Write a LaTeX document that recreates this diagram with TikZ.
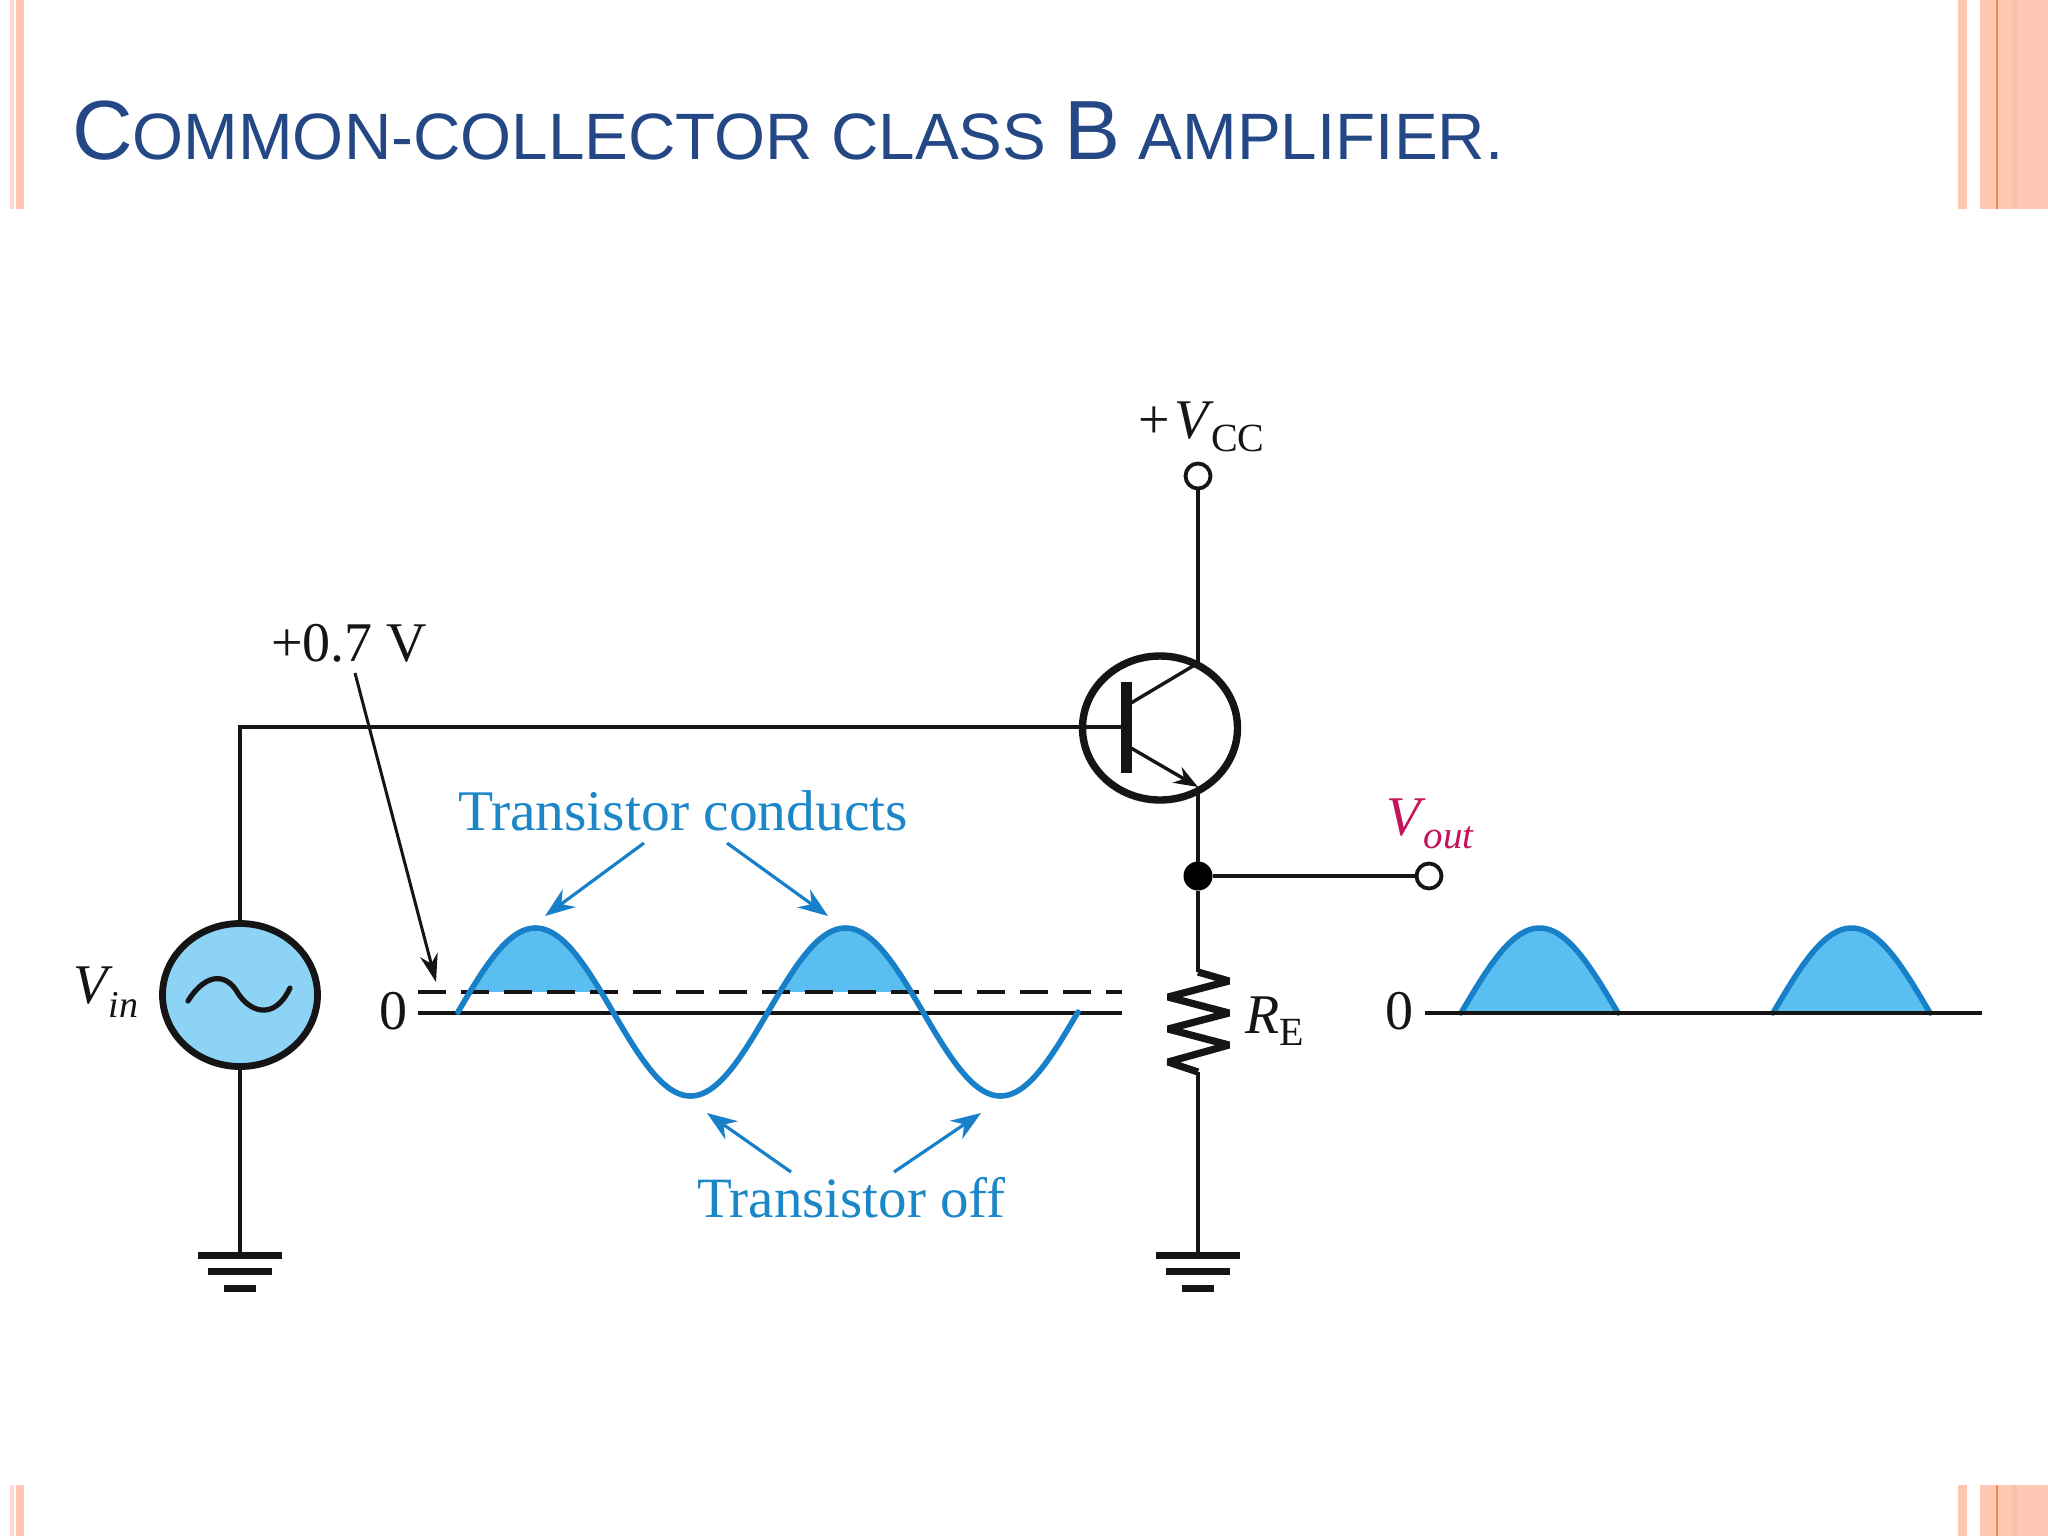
\documentclass[tikz,border=0pt]{standalone}
\usepackage{fontspec}
\setmainfont{Liberation Serif}
\newfontfamily\titlefont{Liberation Sans}
\usetikzlibrary{arrows.meta,shapes.geometric}
\definecolor{deco}{HTML}{FFC8B4}
\definecolor{decoB}{HTML}{FDBFA8}
\definecolor{decoL}{HTML}{FFD9CC}
\definecolor{decoO}{HTML}{F08A50}
\definecolor{titleblue}{HTML}{244785}
\definecolor{wire}{HTML}{151515}
\definecolor{wave}{HTML}{1780C8}
\definecolor{wavefill}{HTML}{5ABFF0}
\definecolor{srcfill}{HTML}{8DD3F5}
\definecolor{bluetxt}{HTML}{1B87C9}
\definecolor{outred}{HTML}{C4145A}
\newcommand{\fs}[1]{\fontsize{#1}{#1}\selectfont}
\tikzset{
  wireline/.style={draw=wire,line width=1.9pt},
  thinlead/.style={draw=wire,line width=1.7pt},
  terminal/.style={circle,draw=wire,fill=white,line width=1.9pt,minimum size=12.5pt,inner sep=0pt,outer sep=0pt},
  junction/.style={circle,fill=black,minimum size=14.5pt,inner sep=0pt,outer sep=0pt},
  bigring/.style={ellipse,draw=wire,line width=3.7pt,minimum width=77.5pt,minimum height=72pt,inner sep=0pt,outer sep=0pt},
  source/.style={ellipse,draw=wire,fill=srcfill,line width=3.4pt,minimum width=77.5pt,minimum height=71.5pt,inner sep=0pt,outer sep=0pt},
  label/.style={anchor=base west,inner sep=0pt,outer sep=0pt,text=#1,font=\fs{28}},
  label/.default=wire,
  bluearrow/.style={draw=wave,line width=1.6pt,-{Stealth[length=15pt,width=11pt,fill=wave]}},
  wavecurve/.style={draw=wave,line width=2.8pt,line cap=round,smooth},
  wavearea/.style={fill=wavefill,draw=none,smooth},
  ground/.pic={
    \draw[wire,line width=3.5pt] (-42,0)--(42,0);
    \draw[wire,line width=3.5pt] (-32,16)--(32,16);
    \draw[wire,line width=3.5pt] (-16,33)--(16,33);
  }
}
\begin{document}
\begin{tikzpicture}[x=0.5pt,y=-0.5pt]
\useasboundingbox (0,0) rectangle (2048,1536);
\fill[white] (0,0) rectangle (2048,1536);
% corner decoration
\foreach \ya/\yb in {0/209,1485/1536}{
  \fill[decoL] (10,\ya) rectangle (14,\yb);
  \fill[deco] (16,\ya) rectangle (24,\yb);
  \fill[deco] (1958,\ya) rectangle (1967,\yb);
  \fill[deco] (1980,\ya) rectangle (2048,\yb);
  \fill[decoB] (2012,\ya) rectangle (2017,\yb);
  \fill[decoO] (1996,\ya) rectangle (1998,\yb);
}
% title
\node[anchor=base west,inner sep=0pt,outer sep=0pt,text=titleblue] (title) at (72,159)
  {\titlefont\fs{42}C\fs{32.8}OMMON-COLLECTOR CLASS \fs{42}B\fs{32.8} AMPLIFIER.};

% named points
\coordinate (basept) at (1126,727);
\coordinate (coll) at (1198,663);
\coordinate (emit) at (1198,787);
\coordinate (collbar) at (1131,703);
\coordinate (emitbar) at (1131,748);
\coordinate (rtop) at (1198,972);
\coordinate (rbot) at (1198,1072);
\coordinate (g1) at (240,1255);
\coordinate (g2) at (1198,1255);
\coordinate (zl) at (418,1013);
\coordinate (zr) at (1122,1013);
\coordinate (dl) at (418,992);
\coordinate (dr) at (1122,992);
\coordinate (ol) at (1425,1013);
\coordinate (or) at (1982,1013);
\coordinate (tipv) at (436,982);
\coordinate (tailv) at (355,673);
\coordinate (tc1a) at (644,843);
\coordinate (tc1b) at (545,916);
\coordinate (tc2a) at (727,843);
\coordinate (tc2b) at (828,916);
\coordinate (to1a) at (791,1172);
\coordinate (to1b) at (707,1113);
\coordinate (to2a) at (894,1172);
\coordinate (to2b) at (981,1113);

% nodes
\node[terminal] (vcc) at (1198,476) {};
\node[bigring] (q) at (1160,728) {};
\node[junction] (dot) at (1198,876) {};
\node[terminal] (vout) at (1429,876) {};
\node[source] (src) at (240,995) {};

% connectors
\draw[wireline] (vcc) -- (coll);
\draw[thinlead] (coll) -- (collbar);
\draw[wireline] (src.north) |- (basept);
\draw[thinlead,-{Stealth[length=12pt,width=9pt,fill=wire]}] (emitbar) -- (emit);
\draw[wireline] (emit) -- (dot);
\draw[wireline] (dot) -- (vout);
\draw[wireline] (dot) -- (rtop);
\draw[wireline] (rbot) -- (g2);
\draw[wireline] (src.south) -- (g1);
\fill[wire] (1120.5,682) rectangle (1131.5,773);
\draw[wire,line width=3.6pt,line join=miter,miter limit=3] (rtop) -- (1229,981) -- (1168,997) -- (1229,1013) -- (1168,1029) -- (1229,1045) -- (1168,1062) -- (rbot);
\pic at (g1) {ground};
\pic at (g2) {ground};
\draw[wire,line width=2.6pt,line cap=round] (188,1001) .. controls (202,978) and (222,970) .. (236,990) .. controls (248,1012) and (274,1022) .. (290,988);

% input waveform
\fill[wavearea] plot[domain=13.8:166.2,samples=40] ({458+0.8611*\x},{1012-84*sin(\x)}) -- cycle;
\fill[wavearea] plot[domain=373.8:526.2,samples=40] ({458+0.8611*\x},{1012-84*sin(\x)}) -- cycle;
\draw[wire,line width=1.6pt] (zl) -- (zr);
\draw[wire,line width=1.6pt,dash pattern=on 14pt off 7.5pt] (dl) -- (dr);
\draw[wavecurve] plot[domain=0:720,samples=121] ({458+0.8611*\x},{1012-84*sin(\x)});

% output waveform
\fill[wavearea] plot[domain=0:180,samples=40] ({1461+0.8722*\x},{1013-85*sin(\x)}) -- cycle;
\fill[wavearea] plot[domain=0:180,samples=40] ({1773+0.8722*\x},{1013-85*sin(\x)}) -- cycle;
\draw[wavecurve] plot[domain=0:180,samples=40] ({1461+0.8722*\x},{1013-85*sin(\x)});
\draw[wavecurve] plot[domain=0:180,samples=40] ({1773+0.8722*\x},{1013-85*sin(\x)});
\draw[wire,line width=1.7pt] (ol) -- (or);

% annotation arrows
\draw[wire,line width=1.5pt,-{Stealth[length=14pt,width=9pt,fill=wire]}] (tailv) -- (tipv);
\draw[bluearrow] (tc1a) -- (tc1b);
\draw[bluearrow] (tc2a) -- (tc2b);
\draw[bluearrow] (to1a) -- (to1b);
\draw[bluearrow] (to2a) -- (to2b);

% labels
\node[label] (lvcc) at (1138,438) {+\hspace{2.5pt}\textit{V}\hspace{-1.5pt}\raisebox{-6.5pt}{\fs{20}CC}};
\node[label] (l07) at (271,661) {+0.7\hspace{7pt}V};
\node[label=outred] (lvout) at (1386,835) {\textit{V}\hspace{-1pt}\raisebox{-6.5pt}{\fs{19.5}\textit{out}}};
\node[label] (lvin) at (73,1003) {\textit{V}\hspace{-2pt}\raisebox{-7pt}{\fs{19}\textit{in}}};
\node[label] (l0a) at (379,1029) {0};
\node[label] (l0b) at (1385,1029) {0};
\node[label] (lre) at (1245,1033) {\textit{R}\raisebox{-6pt}{\fs{20}E}};
\node[label=bluetxt,font=\fs{28.75}] (tcond) at (458,830) {Transistor conducts};
\node[label=bluetxt,font=\fs{28.5}] (toff) at (697,1217) {Transistor off};
\end{tikzpicture}
\end{document}
